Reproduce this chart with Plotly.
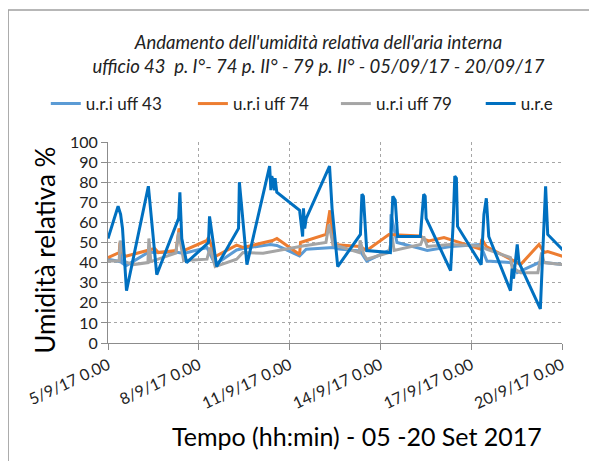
import pandas as pd
import plotly.graph_objects as go

# -----------------------------------------------------
# DATA
# -----------------------------------------------------

# u.r.e  (external relative humidity)
ure_time = [
    "2017-09-05 00:00", "2017-09-05 08:00", "2017-09-05 10:00", "2017-09-05 11:30",
    "2017-09-05 14:40", "2017-09-06 08:00", "2017-09-06 14:40", "2017-09-07 08:00",
    "2017-09-07 09:00", "2017-09-07 10:30", "2017-09-07 14:20", "2017-09-08 07:40",
    "2017-09-08 08:30", "2017-09-08 14:10", "2017-09-09 07:30", "2017-09-09 08:10",
    "2017-09-09 09:40", "2017-09-09 14:10", "2017-09-10 08:10", "2017-09-10 09:10",
    "2017-09-10 09:50", "2017-09-10 10:50", "2017-09-10 12:00", "2017-09-10 12:30",
    "2017-09-10 13:50", "2017-09-11 07:55", "2017-09-11 10:20", "2017-09-11 11:00",
    "2017-09-11 12:00", "2017-09-11 13:10", "2017-09-12 07:40", "2017-09-12 09:40",
    "2017-09-12 14:10", "2017-09-13 08:10", "2017-09-13 09:20", "2017-09-13 10:30",
    "2017-09-13 13:10", "2017-09-14 07:55", "2017-09-14 09:50", "2017-09-14 11:45",
    "2017-09-14 13:40", "2017-09-15 07:40", "2017-09-15 09:10", "2017-09-15 10:20",
    "2017-09-15 11:30", "2017-09-15 12:15", "2017-09-16 07:40", "2017-09-16 09:35",
    "2017-09-16 11:00", "2017-09-16 12:15", "2017-09-16 13:10", "2017-09-17 07:55",
    "2017-09-17 10:05", "2017-09-17 12:00", "2017-09-17 13:55", "2017-09-18 07:10",
    "2017-09-18 08:25", "2017-09-18 09:35", "2017-09-18 12:30", "2017-09-18 13:55",
    "2017-09-19 06:50", "2017-09-19 11:00", "2017-09-19 12:40", "2017-09-20 01:10",
]
ure_val = [
    52, 68, 64, 57, 26, 78, 34, 62, 75, 52, 40, 50, 63, 38, 57, 80,
    70, 39, 88, 76, 83, 81, 76, 82, 75, 66, 53, 67, 57, 62, 88, 67,
    38, 54, 74, 73, 46, 45, 73, 71, 53, 53, 65, 74, 73, 62, 36, 58,
    83, 82, 58, 39, 64, 72, 53, 26, 37, 32, 49, 40, 17, 78, 54, 46,
]

# u.r.i uff 43
u43_time = [
    "2017-09-05 00:00", "2017-09-05 09:20", "2017-09-05 09:50", "2017-09-05 10:50",
    "2017-09-05 14:20", "2017-09-06 07:40", "2017-09-07 05:45", "2017-09-07 12:00",
    "2017-09-08 06:30", "2017-09-08 13:00", "2017-09-09 06:00", "2017-09-09 11:00",
    "2017-09-10 08:40", "2017-09-10 13:55", "2017-09-11 07:55", "2017-09-11 13:10",
    "2017-09-12 10:30", "2017-09-12 15:20", "2017-09-13 07:55", "2017-09-13 13:10",
    "2017-09-14 06:45", "2017-09-14 07:55", "2017-09-14 08:25", "2017-09-14 13:10",
    "2017-09-15 07:40", "2017-09-15 13:10", "2017-09-16 07:40", "2017-09-17 07:10",
    "2017-09-17 12:30", "2017-09-18 07:10", "2017-09-18 12:30", "2017-09-19 05:45",
    "2017-09-19 09:50", "2017-09-20 01:10",
]
u43_val = [
    41.7, 40.5, 48, 40, 38.5, 45, 45.3, 44.5, 47.5, 39, 46.3, 47,
    49, 48.5, 43.3, 46.7, 47.5, 46.7, 45.8, 40.8, 46, 46, 64, 50,
    47, 46, 48, 49, 40.8, 40, 35, 40, 40, 39,
]

# u.r.i uff 74
u74_time = [
    "2017-09-05 00:00", "2017-09-05 08:50", "2017-09-05 09:30", "2017-09-05 10:50",
    "2017-09-05 13:25", "2017-09-06 07:40", "2017-09-06 13:00", "2017-09-06 15:50",
    "2017-09-07 06:00", "2017-09-07 08:20", "2017-09-07 12:00", "2017-09-08 06:30",
    "2017-09-08 07:40", "2017-09-08 13:00", "2017-09-09 06:00", "2017-09-09 11:00",
    "2017-09-10 08:40", "2017-09-10 10:30", "2017-09-10 13:55", "2017-09-11 07:55",
    "2017-09-11 08:40", "2017-09-12 04:50", "2017-09-12 07:55", "2017-09-12 10:30",
    "2017-09-13 07:55", "2017-09-13 13:10", "2017-09-14 06:45", "2017-09-15 07:55",
    "2017-09-15 10:30", "2017-09-15 14:25", "2017-09-16 02:25", "2017-09-17 07:10",
    "2017-09-17 08:25", "2017-09-17 12:00", "2017-09-18 07:10", "2017-09-18 12:30",
    "2017-09-18 15:10", "2017-09-19 05:45", "2017-09-19 09:50", "2017-09-19 12:40",
    "2017-09-20 01:10",
]
u74_val = [
    42.5, 45, 50, 46, 43, 46, 47, 45, 46, 57, 46, 51,
    52.5, 43, 48.7, 47.5, 51, 51, 52, 44, 50, 54, 66, 49,
    48, 46, 54, 53.3, 51.7, 50.8, 52.5, 46.7, 51.7, 48, 41.7, 40,
    39, 49, 45, 45.5, 43,
]

# u.r.i uff 79
u79_time = [
    "2017-09-05 00:00", "2017-09-05 08:50", "2017-09-05 09:40", "2017-09-05 13:25",
    "2017-09-05 19:55", "2017-09-06 07:40", "2017-09-06 08:25", "2017-09-06 10:00",
    "2017-09-07 05:45", "2017-09-07 08:00", "2017-09-07 12:00", "2017-09-08 06:30",
    "2017-09-08 08:50", "2017-09-08 13:00", "2017-09-09 06:00", "2017-09-09 11:00",
    "2017-09-10 03:00", "2017-09-11 10:30", "2017-09-12 04:50", "2017-09-12 07:10",
    "2017-09-12 10:30", "2017-09-13 07:10", "2017-09-13 07:55", "2017-09-13 10:50",
    "2017-09-13 13:10", "2017-09-14 06:45", "2017-09-14 09:20", "2017-09-14 10:50",
    "2017-09-15 07:55", "2017-09-15 10:20", "2017-09-15 13:10", "2017-09-16 07:10",
    "2017-09-17 07:10", "2017-09-17 12:00", "2017-09-18 07:10", "2017-09-18 08:25",
    "2017-09-18 15:10", "2017-09-19 04:50", "2017-09-19 07:50", "2017-09-19 09:50",
    "2017-09-20 01:10",
]
u79_val = [
    40.8, 40.8, 51, 40.5, 39, 40, 52, 40.5, 44.7, 55, 41, 41.7,
    47.5, 38, 41.7, 45, 44.7, 48.3, 50, 59, 49, 45, 51, 44,
    41.7, 45, 53, 46, 49, 53, 48, 49, 48.3, 46.7, 42.5, 37.5,
    35, 35, 45, 40, 39,
]

x_tick_dates = [
    "2017-09-05", "2017-09-08", "2017-09-11",
    "2017-09-14", "2017-09-17", "2017-09-20",
]
x_tick_labels = [
    "5/9/17 0.00", "8/9/17 0.00", "11/9/17 0.00",
    "14/9/17 0.00", "17/9/17 0.00", "20/9/17 0.00",
]

# -----------------------------------------------------
# FIGURE
# -----------------------------------------------------

FONT = "Lato, 'Open Sans', sans-serif"

# name, times, values, colour, legend id, legend x (paper)
series = [
    ("u.r.i uff 43", u43_time, u43_val, "#5B9BD5", "legend", -0.137),
    ("u.r.i uff 74", u74_time, u74_val, "#ED7D31", "legend2", 0.187),
    ("u.r.i uff 79", u79_time, u79_val, "#A5A5A5", "legend3", 0.502),
    ("u.r.e", ure_time, ure_val, "#0070C0", "legend4", 0.821),
]

fig = go.Figure()

legends = {}

for name, t, v, color, leg, lx in series:

    fig.add_trace(

        go.Scatter(

            x=pd.to_datetime(t),

            y=v,

            mode="lines",

            name=name,

            legend=leg,

            line=dict(color=color, width=3)

        )

    )

    legends[leg] = dict(
        orientation="h",
        x=lx,
        xanchor="left",
        y=1.189,
        yanchor="middle",
        font=dict(size=17, color="#222222"),
        bgcolor="rgba(0,0,0,0)"
    )

fig.update_layout(

    width=597,

    height=461,

    margin=dict(l=100, r=43, t=134, b=126),

    paper_bgcolor="white",

    plot_bgcolor="white",

    font=dict(family=FONT, color="#000000"),

    title=dict(
        text="<i>Andamento dell'umidità relativa dell'aria interna<br>"
             "ufficio 43  p. I°- 74 p. II° - 79 p. II° - 05/09/17 - 20/09/17</i>",
        x=0.52,
        xanchor="center",
        y=0.912,
        yanchor="middle",
        font=dict(size=18.5, color="#222222")
    ),

    showlegend=True,

    **legends

)

fig.update_xaxes(

    range=[pd.Timestamp("2017-09-05"), pd.Timestamp("2017-09-20")],

    tickvals=pd.to_datetime(x_tick_dates),

    ticktext=x_tick_labels,

    tickangle=-25,

    tickfont=dict(size=16, color="#222222"),

    ticks="outside",

    ticklen=6,

    tickcolor="#8C8C8C",

    showline=True,

    linecolor="#8C8C8C",

    linewidth=1,

    showgrid=True,

    gridcolor="#A6A6A6",

    griddash="dot",

    gridwidth=1,

    zeroline=False

)

fig.update_yaxes(

    range=[0, 100],

    dtick=10,

    tickfont=dict(size=16, color="#222222"),

    ticks="outside",

    ticklen=6,

    tickcolor="#8C8C8C",

    showline=True,

    linecolor="#8C8C8C",

    linewidth=1,

    showgrid=True,

    gridcolor="#A6A6A6",

    griddash="dot",

    gridwidth=1,

    zeroline=False

)

# y-axis title, placed as in the reference
fig.add_annotation(
    text="Umidità relativa %",
    xref="paper",
    yref="paper",
    x=-0.139,
    y=0.463,
    xanchor="center",
    yanchor="middle",
    textangle=-90,
    showarrow=False,
    font=dict(size=26, color="#000000")
)

# x-axis title, placed as in the reference (slightly right of the plot centre)
fig.add_annotation(
    text="Tempo (hh:min) - 05 -20 Set 2017",
    xref="paper",
    yref="paper",
    x=0.548,
    y=-0.465,
    xanchor="center",
    yanchor="middle",
    showarrow=False,
    font=dict(size=25, color="#000000")
)

# chart-area border (top and left edges visible in the crop)
fig.add_shape(
    type="rect",
    xref="paper",
    yref="paper",
    x0=-0.22,
    x1=1.5,
    y0=-1.0,
    y1=1.657,
    line=dict(color="#A0A0A0", width=1.5),
    layer="below"
)

fig.write_html("out.html")
